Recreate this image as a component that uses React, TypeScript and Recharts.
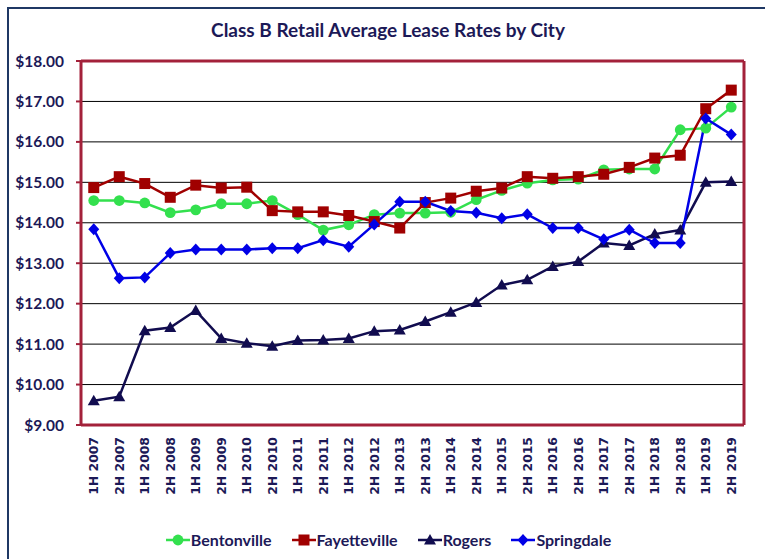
import React from "react";
import {
  LineChart,
  Line,
  XAxis,
  YAxis,
  CartesianGrid,
  Legend,
} from "recharts";

const periods = [
  "1H 2007", "2H 2007", "1H 2008", "2H 2008", "1H 2009", "2H 2009",
  "1H 2010", "2H 2010", "1H 2011", "2H 2011", "1H 2012", "2H 2012",
  "1H 2013", "2H 2013", "1H 2014", "2H 2014", "1H 2015", "2H 2015",
  "1H 2016", "2H 2016", "1H 2017", "2H 2017", "1H 2018", "2H 2018",
  "1H 2019", "2H 2019",
];

const bentonville = [
  14.55, 14.55, 14.49, 14.25, 14.32, 14.47, 14.47, 14.55, 14.2, 13.82, 13.95,
  14.2, 14.24, 14.24, 14.26, 14.57, 14.8, 14.98, 15.06, 15.08, 15.31, 15.33,
  15.33, 16.3, 16.34, 16.86,
];
const fayetteville = [
  14.87, 15.14, 14.97, 14.63, 14.93, 14.86, 14.88, 14.3, 14.27, 14.27, 14.18,
  14.03, 13.87, 14.5, 14.61, 14.78, 14.86, 15.14, 15.1, 15.14, 15.2, 15.37,
  15.6, 15.67, 16.82, 17.28,
];
const rogers = [
  9.6, 9.7, 11.33, 11.41, 11.83, 11.14, 11.02, 10.95, 11.09, 11.1, 11.14,
  11.32, 11.35, 11.56, 11.79, 12.03, 12.46, 12.59, 12.92, 13.04, 13.5, 13.44,
  13.72, 13.82, 15.0, 15.02,
];
const springdale = [
  13.84, 12.63, 12.65, 13.25, 13.34, 13.34, 13.34, 13.37, 13.37, 13.57, 13.41,
  13.96, 14.52, 14.52, 14.29, 14.25, 14.11, 14.21, 13.87, 13.87, 13.59, 13.83,
  13.5, 13.5, 16.58, 16.18,
];

const yTicks = [9, 10, 11, 12, 13, 14, 15, 16, 17, 18];

const data = periods.map((p, i) => ({
  period: p,
  Bentonville: bentonville[i],
  Fayetteville: fayetteville[i],
  Rogers: rogers[i],
  Springdale: springdale[i],
}));

const NAVY_TEXT = "#1C1957";
const FRAME = "#A3213A";
const FONT = "Lato, 'Noto Sans', sans-serif";

type Shape = "circle" | "square" | "triangle" | "diamond";

const series: { key: string; color: string; shape: Shape }[] = [
  { key: "Bentonville", color: "#33E04E", shape: "circle" },
  { key: "Fayetteville", color: "#A00000", shape: "square" },
  { key: "Rogers", color: "#110C4F", shape: "triangle" },
  { key: "Springdale", color: "#0000E6", shape: "diamond" },
];

function marker(shape: Shape, cx: number, cy: number, color: string, key?: any) {
  const s = 5.5;
  if (shape === "circle")
    return <circle key={key} cx={cx} cy={cy} r={5.4} fill={color} stroke="none" />;
  if (shape === "square")
    return <rect key={key} x={cx - s} y={cy - s} width={s * 2} height={s * 2} fill={color} />;
  if (shape === "triangle")
    return (
      <polygon
        key={key}
        points={`${cx},${cy - 6} ${cx - 6},${cy + 4.5} ${cx + 6},${cy + 4.5}`}
        fill={color}
      />
    );
  return (
    <polygon
      key={key}
      points={`${cx},${cy - 6} ${cx + 5.5},${cy} ${cx},${cy + 6} ${cx - 5.5},${cy}`}
      fill={color}
    />
  );
}

const XTick = (props: any) => {
  const { x, y, payload } = props;
  return (
    <text
      transform={`translate(${x},${y + 12}) rotate(-90)`}
      textAnchor="end"
      dominantBaseline="central"
      fill={NAVY_TEXT}
      fontFamily="'DejaVu Sans', sans-serif"
      fontWeight="bold"
      fontSize={12.4}
    >
      {payload.value}
    </text>
  );
};

const LegendContent = () => (
  <div
    style={{
      display: "flex",
      justifyContent: "center",
      alignItems: "center",
      paddingLeft: 12,
      fontFamily: FONT,
      fontWeight: "bold",
      fontSize: 16,
      color: NAVY_TEXT,
    }}
  >
    {series.map((s) => (
      <div key={s.key} style={{ display: "flex", alignItems: "center", margin: "0 10px" }}>
        <svg width={24} height={14} style={{ marginRight: 1 }}>
          <line x1={0} y1={7} x2={24} y2={7} stroke={s.color} strokeWidth={2.5} />
          {marker(s.shape, 12, 7, s.color)}
        </svg>
        <span>{s.key}</span>
      </div>
    ))}
  </div>
);

export default function App() {
  return (
    <div
      style={{
        position: "fixed",
        left: 0,
        top: 0,
        width: 765,
        height: 559,
        overflow: "hidden",
        background: "#fff",
      }}
    >
      <div
        style={{
          position: "absolute",
          left: 7,
          top: 7,
          width: 800,
          height: 600,
          borderLeft: "2.5px solid #1F3864",
          borderTop: "2.5px solid #1F3864",
        }}
      />
      <div
        style={{
          position: "absolute",
          left: 0,
          top: 18,
          width: 776,
          textAlign: "center",
          fontFamily: FONT,
          fontWeight: "bold",
          fontSize: 19,
          color: NAVY_TEXT,
        }}
      >
        Class B Retail Average Lease Rates by City
      </div>
      <div style={{ position: "absolute", left: 0, top: 0 }}>
        <LineChart
          width={765}
          height={559}
          data={data}
          margin={{ top: 61, right: 21, bottom: 0, left: 0 }}
        >
          <CartesianGrid horizontal vertical={false} stroke="#000" strokeWidth={1} />
          <CartesianGrid
            stroke={FRAME}
            strokeWidth={3}
            horizontalCoordinatesGenerator={(p: any) => [
              p.offset.top,
              p.offset.top + p.offset.height,
            ]}
            verticalCoordinatesGenerator={(p: any) => [
              p.offset.left,
              p.offset.left + p.offset.width,
            ]}
          />
          <XAxis
            dataKey="period"
            height={134}
            axisLine={false}
            tickLine={false}
            tickSize={0}
            tickMargin={0}
            interval={0}
            padding={{ left: 12.75, right: 12.75 }}
            tick={<XTick />}
          />
          <YAxis
            width={81}
            domain={[9, 18]}
            ticks={yTicks}
            axisLine={false}
            tickLine={{ stroke: FRAME, strokeWidth: 2 }}
            tickSize={5}
            tickMargin={12}
            tickFormatter={(v: number) => `$${v.toFixed(2)}`}
            tick={{
              fill: NAVY_TEXT,
              fontFamily: FONT,
              fontWeight: "bold",
              fontSize: 15.5,
            }}
          />
          {series.map((s) => (
            <Line
              key={s.key}
              type="linear"
              dataKey={s.key}
              stroke={s.color}
              strokeWidth={2.5}
              isAnimationActive={false}
              dot={(d: any) => marker(s.shape, d.cx, d.cy, s.color, `${s.key}-${d.index}`)}
              activeDot={false}
            />
          ))}
          <Legend
            verticalAlign="middle"
            layout="horizontal"
            content={<LegendContent />}
            wrapperStyle={{ top: 530, left: 0, width: 765, height: 22 }}
          />
        </LineChart>
      </div>
    </div>
  );
}
